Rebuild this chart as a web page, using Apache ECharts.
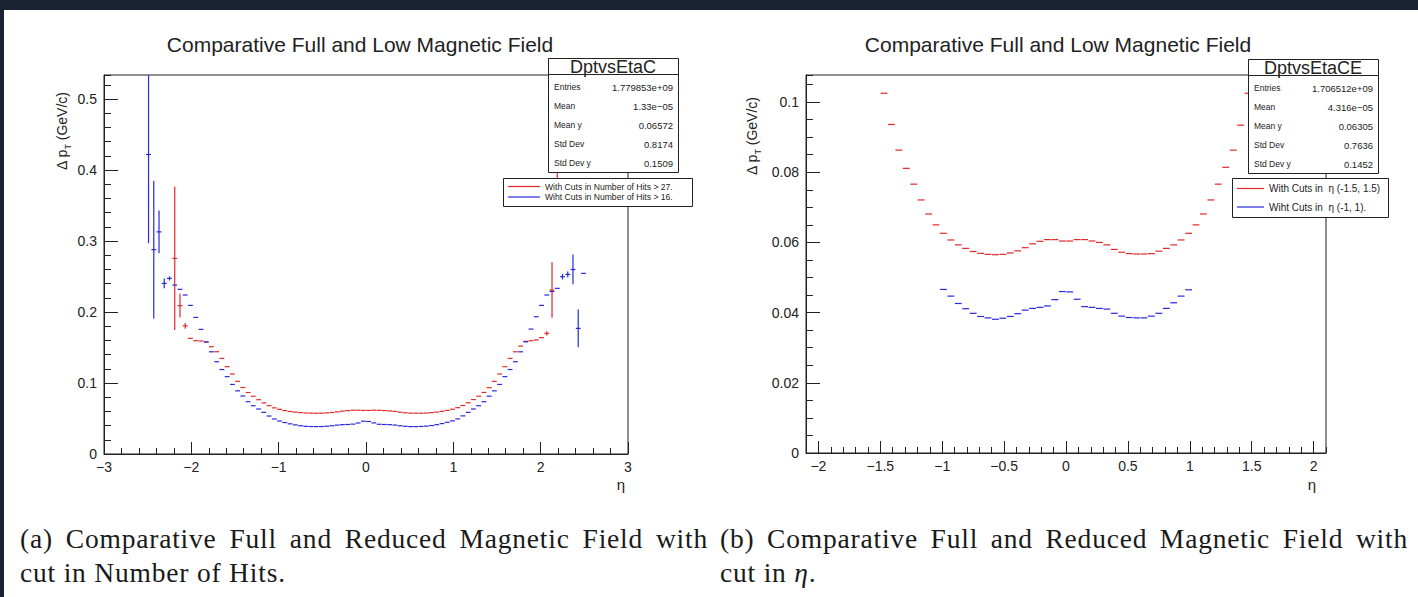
<!DOCTYPE html>
<html>
<head>
<meta charset="utf-8">
<title>Comparative Full and Low Magnetic Field</title>
<script src="https://cdn.jsdelivr.net/npm/echarts@6/dist/echarts.min.js"></script>
<style>
  html, body { margin: 0; padding: 0; }
  body { width: 1418px; height: 597px; background: #1b2232; position: relative; overflow: hidden; }
  #sheet { position: absolute; left: 4px; top: 10px; right: 0; bottom: 0; background: #fff; }
  #main { position: absolute; left: 0; top: 0; width: 1418px; height: 597px; }
  .cap { position: absolute; top: 522px; font-family: 'Liberation Serif', 'DejaVu Serif', serif; font-size: 27.5px; line-height: 34px; letter-spacing: 0.8px; color: #1a1a1a; white-space: nowrap; }
  .cap span { display: inline-block; }
</style>
</head>
<body>
<div id="sheet"></div>
<div id="main"></div>
<div class="cap" style="left:20px"><span class="l1">(a) Comparative Full and Reduced Magnetic Field with</span><br><span class="l2">cut in Number of Hits.</span></div>
<div class="cap" style="left:720px"><span class="l1">(b) Comparative Full and Reduced Magnetic Field with</span><br><span class="l2">cut in <i>η</i>.</span></div>
<script>
// ---- plot (a): cut in number of hits, bins of 0.06 in eta ----
const etaA = [
    -2.49, -2.43, -2.37, -2.31, -2.25, -2.19,
    -2.13, -2.07, -2.01, -1.95, -1.89, -1.83,
    -1.77, -1.71, -1.65, -1.59, -1.53, -1.47,
    -1.41, -1.35, -1.29, -1.23, -1.17, -1.11,
    -1.05, -0.99, -0.93, -0.87, -0.81, -0.75,
    -0.69, -0.63, -0.57, -0.51, -0.45, -0.39,
    -0.33, -0.27, -0.21, -0.15, -0.09, -0.03,
    0.03, 0.09, 0.15, 0.21, 0.27, 0.33,
    0.39, 0.45, 0.51, 0.57, 0.63, 0.69,
    0.75, 0.81, 0.87, 0.93, 0.99, 1.05,
    1.11, 1.17, 1.23, 1.29, 1.35, 1.41,
    1.47, 1.53, 1.59, 1.65, 1.71, 1.77,
    1.83, 1.89, 1.95, 2.01, 2.07, 2.13,
    2.19, 2.25, 2.31, 2.37, 2.43, 2.49
];
const redA = [
    null, null, null, null, null, 0.2756,
    0.2090, 0.1805, 0.1630, 0.1596, 0.1592, 0.1577,
    0.1512, 0.1441, 0.1347, 0.1230, 0.1127, 0.1024,
    0.0937, 0.0866, 0.0814, 0.0765, 0.0720, 0.0681,
    0.0650, 0.0630, 0.0612, 0.0599, 0.0590, 0.0583,
    0.0578, 0.0575, 0.0574, 0.0575, 0.0579, 0.0585,
    0.0594, 0.0604, 0.0611, 0.0616, 0.0617, 0.0614,
    0.0614, 0.0617, 0.0616, 0.0612, 0.0607, 0.0600,
    0.0589, 0.0581, 0.0576, 0.0575, 0.0575, 0.0577,
    0.0583, 0.0591, 0.0601, 0.0614, 0.0631, 0.0653,
    0.0683, 0.0722, 0.0767, 0.0815, 0.0867, 0.0935,
    0.1024, 0.1127, 0.1230, 0.1347, 0.1440, 0.1520,
    0.1587, 0.1596, 0.1606, 0.1640, 0.1700, 0.2310,
    0.4200, null, null, null, null, null
];
const blueA = [
    0.4220, 0.2880, 0.3130, 0.2404, 0.2474, 0.2380,
    0.2320, 0.2240, 0.2094, 0.1925, 0.1756, 0.1580,
    0.1440, 0.1300, 0.1190, 0.1090, 0.0980, 0.0890,
    0.0817, 0.0737, 0.0680, 0.0634, 0.0587, 0.0535,
    0.0493, 0.0465, 0.0443, 0.0425, 0.0410, 0.0398,
    0.0390, 0.0387, 0.0386, 0.0387, 0.0391, 0.0398,
    0.0407, 0.0413, 0.0416, 0.0421, 0.0437, 0.0462,
    0.0458, 0.0438, 0.0419, 0.0416, 0.0413, 0.0408,
    0.0398, 0.0390, 0.0386, 0.0386, 0.0388, 0.0393,
    0.0401, 0.0413, 0.0428, 0.0447, 0.0467, 0.0495,
    0.0537, 0.0587, 0.0634, 0.0680, 0.0737, 0.0815,
    0.0890, 0.0980, 0.1090, 0.1190, 0.1300, 0.1440,
    0.1580, 0.1760, 0.1934, 0.2094, 0.2240, 0.2290,
    0.2334, 0.2498, 0.2531, 0.2600, 0.1770, 0.2545
];
// [eta, error] for the bins whose error bar is visible
const redErrA = [[-2.19, 0.101], [-2.13, 0.0167], [-2.07, 0.004], [2.07, 0.003], [2.13, 0.039], [2.19, 0.06]];
const blueErrA = [[-2.49, 0.125], [-2.43, 0.097], [-2.37, 0.030], [-2.31, 0.007], [-2.25, 0.003],
    [2.25, 0.004], [2.31, 0.004], [2.37, 0.021], [2.43, 0.0265]];

// ---- plot (b): cut in eta ----
const etaB = [
    -1.47, -1.41, -1.35, -1.29, -1.23, -1.17, -1.11, -1.05, -0.99, -0.93,
    -0.87, -0.81, -0.75, -0.69, -0.63, -0.57, -0.51, -0.45, -0.39, -0.33,
    -0.27, -0.21, -0.15, -0.09, -0.03, 0.03, 0.09, 0.15, 0.21, 0.27,
    0.33, 0.39, 0.45, 0.51, 0.57, 0.63, 0.69, 0.75, 0.81, 0.87,
    0.93, 0.99, 1.05, 1.11, 1.17, 1.23, 1.29, 1.35, 1.41, 1.47
];
const redB = [
    0.1025, 0.0936, 0.0863, 0.0811, 0.0766, 0.0721, 0.0681, 0.0650, 0.0626, 0.0607,
    0.0593, 0.0583, 0.0574, 0.0569, 0.0566, 0.0565, 0.0566, 0.0570, 0.0576, 0.0585,
    0.0596, 0.0603, 0.0608, 0.0608, 0.0604, 0.0604, 0.0608, 0.0608, 0.0604, 0.0600,
    0.0593, 0.0580, 0.0572, 0.0568, 0.0567, 0.0567, 0.0568, 0.0575, 0.0583, 0.0593,
    0.0607, 0.0626, 0.0650, 0.0681, 0.0721, 0.0766, 0.0814, 0.0863, 0.0934, 0.1025
];
const blueB = [
    null, null, null, null, null, null, null, null, 0.0466, 0.0447,
    0.0426, 0.0411, 0.0398, 0.0389, 0.0385, 0.0381, 0.0384, 0.0389, 0.0397, 0.0407,
    0.0412, 0.0415, 0.0419, 0.0437, 0.0460, 0.0459, 0.0438, 0.0417, 0.0415, 0.0412,
    0.0410, 0.0398, 0.0390, 0.0386, 0.0385, 0.0385, 0.0390, 0.0398, 0.0412, 0.0428,
    0.0447, 0.0465, null, null, null, null, null, null, null, null
];

const statsA = [['Entries', '1.779853e+09'], ['Mean', '1.33e\u221205'], ['Mean y', '0.06572'], ['Std Dev', '0.8174'], ['Std Dev y', '0.1509']];
const statsB = [['Entries', '1.706512e+09'], ['Mean', '4.316e\u221205'], ['Mean y', '0.06305'], ['Std Dev', '0.7636'], ['Std Dev y', '0.1452']];

const RED = 'rgb(226,40,40)';
const BLUE = 'rgb(40,40,220)';
const INK = '#222';
const FONT = 'Liberation Sans, Arial, Helvetica, sans-serif';
const BIN = 0.06;

// justify the first caption line to the column width by stretching its spaces
document.querySelectorAll('.cap').forEach(function (cap) {
    let l1 = cap.querySelector('.l1');
    let gaps = l1.textContent.split(' ').length - 1;
    let w = l1.getBoundingClientRect().width;
    l1.style.wordSpacing = Math.max(0, (688 - w) / gaps).toFixed(3) + 'px';
});

const chart = echarts.init(document.getElementById('main'), null, { renderer: 'svg' });

function toPoints(eta, vals, errs) {
    let e = {};
    (errs || []).forEach(function (p) { e[p[0]] = p[1]; });
    let out = [];
    for (let i = 0; i < eta.length; i++) {
        if (vals[i] == null) continue;
        out.push([eta[i], vals[i], e[eta[i]] || 0]);
    }
    return out;
}

// ROOT style profile marks: a bin-wide dash plus the vertical error bar
function binMarks(color) {
    return function (params, api) {
        let x = api.value(0), y = api.value(1), err = api.value(2);
        let c = api.coord([x, y]);
        let half = api.size([BIN, 0])[0] / 2 * 0.92;
        let cs = params.coordSys;
        let st = { stroke: color, lineWidth: 1.2 };
        let kids = [];
        if (c[1] >= cs.y && c[1] <= cs.y + cs.height) {
            kids.push({ type: 'line', shape: { x1: c[0] - half, y1: c[1], x2: c[0] + half, y2: c[1] }, style: st });
        }
        if (err > 0) {
            let top = Math.max(api.coord([x, y + err])[1], cs.y);
            let bot = Math.min(api.coord([x, y - err])[1], cs.y + cs.height);
            if (bot > top) {
                kids.push({ type: 'line', shape: { x1: c[0], y1: top, x2: c[0], y2: bot }, style: st });
            }
        }
        return { type: 'group', children: kids };
    };
}

function minus(v) {
    let r = Math.round(v * 1000) / 1000;
    return String(r).replace('-', '\u2212');
}

function majorX(grid, min, max, extra) {
    return Object.assign({
        type: 'value', gridIndex: grid, min: min, max: max, position: 'bottom',
        axisLine: { onZero: false, lineStyle: { color: INK, width: 1 } },
        axisTick: { inside: true, length: 12, lineStyle: { color: INK } },
        splitLine: { show: false },
        axisLabel: { color: INK, fontSize: 14, fontFamily: FONT, margin: 6, formatter: minus }
    }, extra);
}

function majorY(grid, max, interval, fmt) {
    return {
        type: 'value', gridIndex: grid, min: 0, max: max, interval: interval, position: 'left',
        axisLine: { onZero: false, lineStyle: { color: INK, width: 1 } },
        axisTick: { inside: true, length: 14, lineStyle: { color: INK } },
        splitLine: { show: false },
        axisLabel: { color: INK, fontSize: 14, fontFamily: FONT, margin: 7, showMaxLabel: false, formatter: fmt }
    };
}

function minorY(grid, max, interval) {
    return {
        type: 'value', gridIndex: grid, min: 0, max: max, interval: interval, position: 'left',
        axisLine: { show: false, onZero: false },
        axisTick: { inside: true, length: 7, lineStyle: { color: INK } },
        splitLine: { show: false },
        axisLabel: { show: false }
    };
}

function yFmt(v) {
    return v === 0 ? '0' : String(Math.round(v * 1000) / 1000);
}

function text(x, y, s, size, align, vAlign, extra) {
    return Object.assign({
        type: 'text', x: x, y: y, z: 20,
        style: {
            text: s, fontSize: size, fontFamily: FONT, fill: INK,
            align: align, textAlign: align, verticalAlign: vAlign, textVerticalAlign: vAlign
        }
    }, extra || {});
}

function statBox(x, y, w, name, rows) {
    let els = [
        { type: 'rect', z: 19, shape: { x: x + 0.5, y: y + 0.5, width: w, height: 114 }, style: { fill: '#fff', stroke: INK, lineWidth: 1 } },
        { type: 'line', z: 20, shape: { x1: x + 0.5, y1: y + 16.5, x2: x + w + 0.5, y2: y + 16.5 }, style: { stroke: INK, lineWidth: 1 } },
        text(x + w / 2, y + 9, name, 18, 'center', 'middle')
    ];
    rows.forEach(function (r, i) {
        let ry = y + 29 + i * 19;
        els.push(text(x + 6, ry, r[0], 8.5, 'left', 'middle'));
        els.push(text(x + w - 5, ry, r[1], 9.5, 'right', 'middle'));
    });
    return els;
}

function legendBox(x, y, w, h, items, size, lineLen, rowGap) {
    let els = [{ type: 'rect', z: 19, shape: { x: x + 0.5, y: y + 0.5, width: w, height: h }, style: { fill: '#fff', stroke: INK, lineWidth: 1 } }];
    items.forEach(function (it, i) {
        let ry = y + rowGap[0] + i * rowGap[1];
        els.push({ type: 'line', z: 20, shape: { x1: x + 5, y1: ry, x2: x + 5 + lineLen, y2: ry }, style: { stroke: it[1], lineWidth: 1.2 } });
        els.push(text(x + lineLen + 10, ry, it[0], size, 'left', 'middle'));
    });
    return els;
}

function yTitle(x, y) {
    return {
        type: 'text', x: x, y: y, z: 20, rotation: Math.PI / 2,
        style: {
            text: '{n|\u0394 p}{s|T}{n| (GeV/c)}',
            align: 'right', textAlign: 'right', verticalAlign: 'middle', textVerticalAlign: 'middle',
            rich: {
                n: { fontSize: 14, fontFamily: FONT, fill: INK, color: INK, lineHeight: 20, verticalAlign: 'middle' },
                s: { fontSize: 9, fontFamily: FONT, fill: INK, color: INK, lineHeight: 20, verticalAlign: 'bottom', padding: [6, 0, 0, 0] }
            }
        }
    };
}

let graphics = [
    text(360, 44, 'Comparative Full and Low Magnetic Field', 21, 'center', 'middle'),
    text(1058, 44, 'Comparative Full and Low Magnetic Field', 21, 'center', 'middle'),
    yTitle(62, 92),
    yTitle(752, 97),
    text(621, 484, '\u03b7', 15, 'center', 'middle'),
    text(1312, 484, '\u03b7', 15, 'center', 'middle')
];
graphics = graphics
    .concat(statBox(548, 58, 130, 'DptvsEtaC', statsA))
    .concat(legendBox(503, 178, 189, 28, [['With Cuts in Number of Hits > 27.', RED], ['Wiht Cuts in Number of Hits > 16.', BLUE]], 8.6, 32, [8.5, 10.5]))
    .concat(statBox(1248, 59, 130, 'DptvsEtaCE', statsB))
    .concat(legendBox(1232, 178, 156, 39, [['With Cuts in  \u03b7 (-1.5, 1.5)', RED], ['Wiht Cuts in  \u03b7 (-1, 1).', BLUE]], 10, 27, [10.5, 18.5]));

const option = {
    animation: false,
    grid: [
        { left: 104, top: 75, width: 524, height: 379, show: true, borderColor: INK, borderWidth: 1, backgroundColor: 'transparent' },
        { left: 806, top: 75, width: 520, height: 378, show: true, borderColor: INK, borderWidth: 1, backgroundColor: 'transparent' }
    ],
    xAxis: [
        majorX(0, -3, 3, { interval: 1, minorTick: { show: true, splitNumber: 5, length: 6, lineStyle: { color: INK } } }),
        majorX(1, -2.1, 2.1, { minInterval: 0.5, maxInterval: 0.5, splitNumber: 8,
            axisLabel: { color: INK, fontSize: 14, fontFamily: FONT, margin: 6, formatter: minus, showMinLabel: false, showMaxLabel: false } }),
        {
            type: 'value', gridIndex: 1, min: -2.1, max: 2.1, minInterval: 0.1, maxInterval: 0.1, splitNumber: 42, position: 'bottom',
            axisLine: { show: false, onZero: false },
            axisTick: { inside: true, length: 6, lineStyle: { color: INK } },
            splitLine: { show: false },
            axisLabel: { show: false }
        }
    ],
    yAxis: [
        majorY(0, 0.534, 0.1, yFmt),
        minorY(0, 0.534, 0.02),
        majorY(1, 0.1077, 0.02, yFmt),
        minorY(1, 0.1077, 0.005)
    ],
    series: [
        { name: 'With Cuts in Number of Hits > 27.', type: 'custom', xAxisIndex: 0, yAxisIndex: 0,
          renderItem: binMarks(RED), encode: { x: 0, y: 1 }, data: toPoints(etaA, redA, redErrA) },
        { name: 'Wiht Cuts in Number of Hits > 16.', type: 'custom', xAxisIndex: 0, yAxisIndex: 0,
          renderItem: binMarks(BLUE), encode: { x: 0, y: 1 }, data: toPoints(etaA, blueA, blueErrA) },
        { name: 'With Cuts in η (-1.5, 1.5)', type: 'custom', xAxisIndex: 1, yAxisIndex: 2,
          renderItem: binMarks(RED), encode: { x: 0, y: 1 }, data: toPoints(etaB, redB) },
        { name: 'Wiht Cuts in η (-1, 1).', type: 'custom', xAxisIndex: 1, yAxisIndex: 2,
          renderItem: binMarks(BLUE), encode: { x: 0, y: 1 }, data: toPoints(etaB, blueB) }
    ],
    graphic: graphics
};
chart.setOption(option);
</script>
</body>
</html>
